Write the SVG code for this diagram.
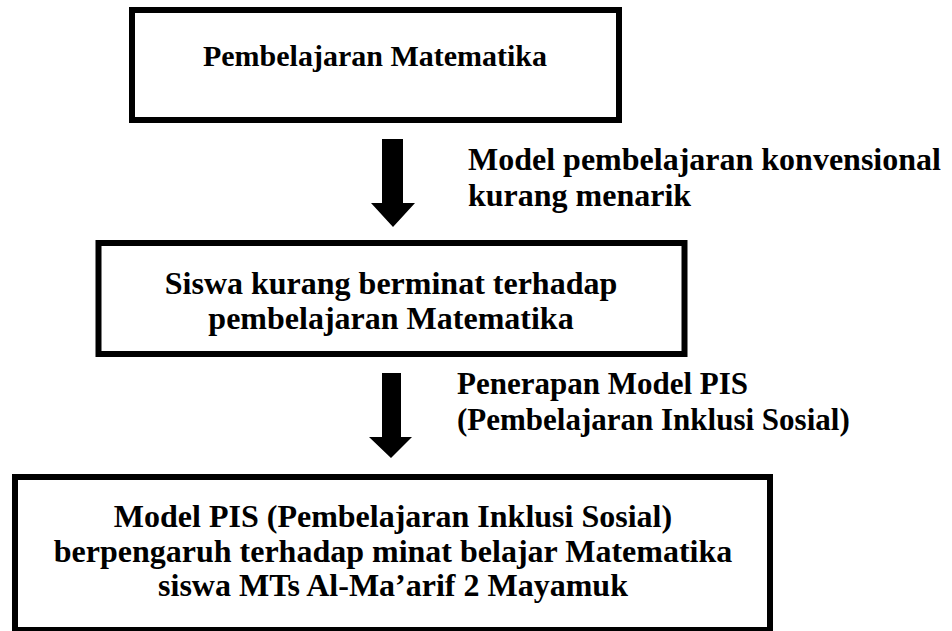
<svg xmlns="http://www.w3.org/2000/svg" width="952" height="631" viewBox="0 0 952 631">
  <style>
    .box { fill: #ffffff; stroke: #000000; stroke-width: 6; }
    .t { font-family: "Liberation Serif", "Times New Roman", serif; font-weight: bold; font-size: 32px; fill: #000000; }
    .s30 { font-size: 30px; }
    .s31 { font-size: 31px; }
    .c { text-anchor: middle; }
    .arrow { fill: #000000; stroke: none; }
  </style>
  <rect x="0" y="0" width="952" height="631" fill="#ffffff"/>
  <g id="node-pembelajaran">
    <rect class="box" x="132" y="10" width="487" height="110"/>
    <text class="t s30 c" x="375" y="66">Pembelajaran Matematika</text>
  </g>
  <g id="node-siswa">
    <rect class="box" x="98.5" y="243" width="586" height="111"/>
    <text class="t c" x="391" y="294">Siswa kurang berminat terhadap</text>
    <text class="t c" x="391" y="329">pembelajaran Matematika</text>
  </g>
  <g id="node-hasil">
    <rect class="box" x="15" y="477" width="755" height="153"/>
    <text class="t c" x="393" y="527">Model PIS (Pembelajaran Inklusi Sosial)</text>
    <text class="t c" x="393" y="562">berpengaruh terhadap minat belajar Matematika</text>
    <text class="t c" x="393" y="596">siswa MTs Al-Ma’arif 2 Mayamuk</text>
  </g>
  <g id="connectors">
    <polygon class="arrow" points="382,139 403,139 403,203 415,203 393,227 371,203 382,203"/>
    <polygon class="arrow" points="382,373 401,373 401,437 412,437 391,458 369,437 382,437"/>
    <text class="t" x="468" y="170">Model pembelajaran konvensional</text>
    <text class="t" x="468" y="206">kurang menarik</text>
    <text class="t s31" x="457" y="394">Penerapan Model PIS</text>
    <text class="t s31" x="457" y="430">(Pembelajaran Inklusi Sosial)</text>
  </g>
</svg>
